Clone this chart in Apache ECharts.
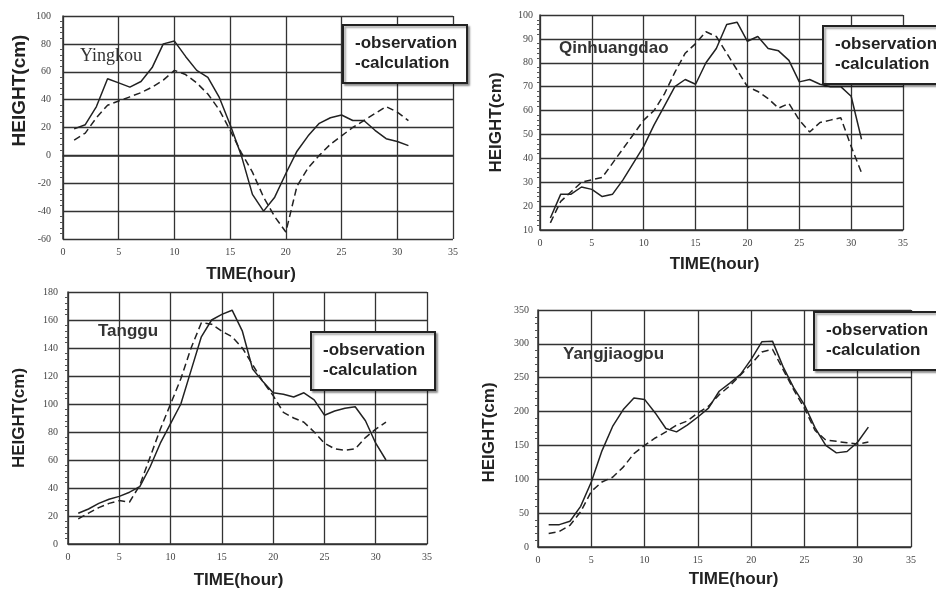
<!DOCTYPE html>
<html>
<head>
<meta charset="utf-8">
<title>Tide height: observation vs calculation</title>
<script src="https://cdn.jsdelivr.net/npm/echarts@6/dist/echarts.min.js"></script>
<style>
  html, body { margin: 0; padding: 0; background: #fff; }
  #main { width: 936px; height: 590px; }
</style>
</head>
<body>
<div id="main"></div>
<script>
// hours of the storm (x axis)
const hours = [1, 2, 3, 4, 5, 6, 7, 8, 9, 10, 11, 12, 13, 14, 15, 16,
  17, 18, 19, 20, 21, 22, 23, 24, 25, 26, 27, 28, 29, 30, 31];

// station names
const stations = ['Yingkou', 'Qinhuangdao', 'Tanggu', 'Yangjiaogou'];

// Yingkou
const yingkouObs = [19, 22, 35, 55, 52, 49, 53, 63, 80, 82, 71, 61, 56, 42, 22, 0,
  -28, -40, -30, -13, 3, 14, 23, 27, 29, 25, 25, 18, 12, 10, 7];
const yingkouCalc = [11, 16, 27, 36, 39, 42, 45, 49, 54, 61, 58, 52, 44, 33, 18, 2,
  -12, -30, -44, -55, -22, -9, 0, 8, 14, 20, 25, 30, 35, 31, 25];

// Qinhuangdao
const qinObs = [15, 25, 25, 28, 27, 24, 25, 31, 38, 45, 54, 62, 70, 73, 71, 80,
  86, 96, 97, 89, 91, 86, 85, 81, 72, 73, 71, 70, 70, 66, 48];
const qinCalc = [13, 22, 26, 30, 31, 32, 38, 44, 50, 56, 60, 67, 76, 84, 88, 93,
  91, 84, 77, 70, 68, 65, 61, 63, 56, 51, 55, 56, 57, 45, 34];

// Tanggu
const tangguObs = [22, 25, 29, 32, 34, 37, 41, 55, 72, 86, 100, 124, 148, 160, 164, 167,
  152, 125, 116, 108, 107, 105, 108, 103, 92, 95, 97, 98, 88, 72, 60];
const tangguCalc = [18, 22, 26, 29, 31, 30, 42, 62, 82, 100, 118, 140, 158, 157, 152, 148,
  140, 128, 116, 106, 94, 90, 87, 80, 72, 68, 67, 68, 76, 82, 87];

// Yangjiaogou
const yangObs = [33, 33, 38, 60, 96, 142, 178, 203, 220, 218, 198, 175, 170, 180, 192, 205,
  230, 242, 255, 277, 303, 304, 266, 235, 210, 176, 150, 139, 141, 155, 177];
const yangCalc = [20, 23, 32, 52, 82, 96, 103, 118, 138, 150, 161, 170, 180, 186, 198, 208,
  225, 238, 254, 270, 288, 292, 262, 232, 205, 172, 158, 156, 154, 152, 155];

// y axis ranges [min, max, interval]
const yRanges = [[-60, 100, 20], [10, 100, 10], [0, 180, 20], [0, 350, 50]];

const obsData = [yingkouObs, qinObs, tangguObs, yangObs];
const calcData = [yingkouCalc, qinCalc, tangguCalc, yangCalc];

// panel layout (pixels)
const grids = [
  { left: 63, top: 16, width: 390, height: 223 },
  { left: 540, top: 15, width: 363, height: 215 },
  { left: 68, top: 292, width: 359, height: 254 },
  { left: 538, top: 310, width: 373, height: 237 }
];
const yNameSize = [19, 17, 17, 17];
const yNameGap = [34, 35, 40, 40];
// padding to nudge the axis titles off centre (text direction)
const yNamePad = [[0, 0, 0, 74], [0, 0, 0, 0], [0, 0, 0, 0], [0, 8, 0, 0]];
const xNameGap = [27, 26, 28, 24];
const xNamePad = [[0, 14, 0, 0], [0, 14, 0, 0], [0, 18, 0, 0], [0, 0, 0, 18]];
const yLabelMargin = [12, 7, 10, 9];
const legendPos = [[343, 25], [823, 26], [311, 332], [814, 312]];
const labelPos = [[80, 57], [559, 50], [98, 333], [563, 356]];

let chart = echarts.init(document.getElementById('main'));

function pairs(vals) {
  return hours.map(function (h, i) { return [h, vals[i]]; });
}

let xAxes = [], yAxes = [], series = [], legends = [], labels = [];

grids.forEach(function (g, i) {
  xAxes.push({
    type: 'value', gridIndex: i, min: 0, max: 35, interval: 5,
    name: 'TIME(hour)', nameLocation: 'middle', nameGap: xNameGap[i],
    nameTextStyle: { fontFamily: 'Liberation Sans', fontWeight: 'bold', fontSize: 17, color: '#222', padding: xNamePad[i] },
    axisLine: { show: true, lineStyle: { color: '#333', width: 1.5 } },
    axisTick: { show: false },
    axisLabel: { margin: 8, fontFamily: 'Liberation Serif', fontSize: 10, color: '#444' },
    splitLine: { show: true, lineStyle: { color: '#333', width: 1.3 } }
  });
  yAxes.push({
    type: 'value', gridIndex: i, min: yRanges[i][0], max: yRanges[i][1], interval: yRanges[i][2],
    name: 'HEIGHT(cm)', nameLocation: 'middle', nameGap: yNameGap[i],
    nameTextStyle: { fontFamily: 'Liberation Sans', fontWeight: 'bold', fontSize: yNameSize[i], color: '#222', padding: yNamePad[i] },
    axisLine: { show: true, lineStyle: { color: '#333', width: 1.5 } },
    axisTick: { show: false },
    minorTick: { show: true, splitNumber: 5, length: 3, lineStyle: { color: '#555' } },
    axisLabel: { margin: yLabelMargin[i], fontFamily: 'Liberation Serif', fontSize: 10, color: '#444' },
    splitLine: { show: true, lineStyle: { color: '#333', width: 1.3 } }
  });
  series.push({
    name: 'observation', type: 'line', xAxisIndex: i, yAxisIndex: i,
    data: pairs(obsData[i]), showSymbol: false, smooth: false,
    lineStyle: { color: '#222', width: 1.5 }, itemStyle: { color: '#222' }
  });
  series.push({
    name: 'calculation', type: 'line', xAxisIndex: i, yAxisIndex: i,
    data: pairs(calcData[i]), showSymbol: false, smooth: false,
    lineStyle: { color: '#222', width: 1.5, type: [7, 4] }, itemStyle: { color: '#222' }
  });
  legends.push({
    data: ['observation', 'calculation'], orient: 'vertical',
    left: legendPos[i][0], top: legendPos[i][1],
    itemWidth: 0, itemHeight: 0, itemGap: 3,
    formatter: '-{name}',
    padding: [10, 10, 11, 6],
    backgroundColor: '#fff', borderColor: '#222', borderWidth: 2, borderRadius: 0,
    shadowColor: 'rgba(0,0,0,0.35)', shadowBlur: 2, shadowOffsetX: 2, shadowOffsetY: 2,
    selectedMode: false,
    textStyle: { fontFamily: 'Liberation Sans', fontWeight: 'bold', fontSize: 17, color: '#222', lineHeight: 17 }
  });
  labels.push({
    type: 'text', left: labelPos[i][0], top: labelPos[i][1] - 10,
    style: {
      text: stations[i],
      font: i == 0 ? '18px "Liberation Serif"' : 'bold 17px "Liberation Sans"',
      fill: '#333'
    }
  });
});

let option = {
  backgroundColor: '#fff',
  animation: false,
  grid: grids,
  xAxis: xAxes,
  yAxis: yAxes,
  legend: legends,
  series: series,
  graphic: labels
};
chart.setOption(option);
</script>
</body>
</html>
